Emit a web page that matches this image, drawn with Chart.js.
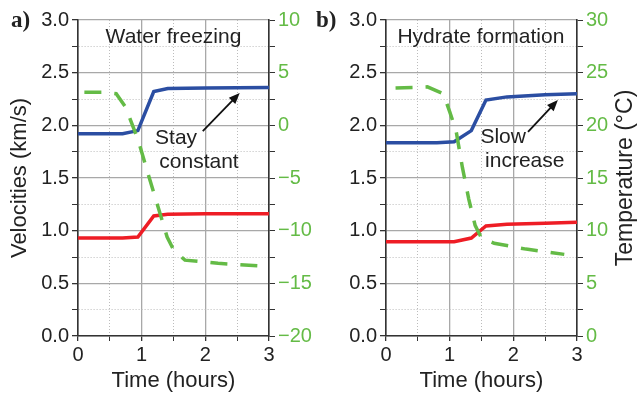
<!DOCTYPE html>
<html>
<head>
<meta charset="utf-8">
<script src="https://cdn.jsdelivr.net/npm/chart.js@4.4.0/dist/chart.umd.min.js"></script>
<style>
  body { margin: 0; background: #fff; }
  #wrap { position: relative; width: 639px; height: 394px; }
  canvas { position: absolute; top: 0; }
  #chartA { left: 0; }
  #chartB { left: 310px; }
</style>
</head>
<body>
<div id="wrap">
  <canvas id="chartA" width="320" height="394"></canvas>
  <canvas id="chartB" width="329" height="394"></canvas>
</div>
<script>
// Panel a) water freezing
const velTimesA = [0, 0.7, 0.94, 1.19, 1.41, 2.0, 3.0];
const vpA = [1.92, 1.92, 1.95, 2.32, 2.35, 2.355, 2.36];
const vsA = [0.93, 0.93, 0.94, 1.14, 1.155, 1.16, 1.16];
const tempTimesA = [0.1, 0.4, 0.6, 0.75, 0.95, 1.1, 1.4, 1.5, 1.68, 2.2, 3.0];
const tempA = [3.15, 3.15, 3.0, 1.7, -1.5, -4.6, -10.6, -11.8, -12.8, -13.1, -13.4];

// Panel b) hydrate formation
const velTimesB = [0, 0.8, 1.07, 1.34, 1.57, 1.9, 2.5, 3.0];
const vpB = [1.835, 1.835, 1.845, 1.95, 2.24, 2.27, 2.29, 2.30];
const vsB = [0.895, 0.895, 0.895, 0.93, 1.045, 1.06, 1.07, 1.08];
const tempTimesB = [0.15, 0.45, 0.65, 0.9, 1.0, 1.1, 1.2, 1.3, 1.4, 1.5, 1.7, 2.2, 2.8];
const tempB = [23.55, 23.6, 23.65, 23.0, 21.3, 19.5, 16.0, 13.0, 10.5, 9.3, 8.8, 8.25, 7.75];

// axis ranges and labels
const timeRange = [0, 3];
const velRange = [0, 3];
const tempRangeA = [-20, 10];
const tempRangeB = [0, 30];

const BLUE = '#2b4ea2';
const RED = '#ee1d25';
const GREEN = '#64bb46';
const MAJOR = '#a8a8a8';
const MINOR = '#bcbcbc';
const DARK = '#333';

Chart.defaults.font.family = '"Liberation Sans", Arial, sans-serif';
Chart.defaults.color = '#222';

const pts = (xs, ys) => xs.map((x, i) => ({ x: x, y: ys[i] }));
const isMajor = (v, step) => Math.abs(v / step - Math.round(v / step)) < 1e-6;

// text, arrow and panel label drawn on top of each chart
const annotate = {
    id: 'annotate',
    afterDraw(chart, args, opts) {
        const { ctx, scales: { x, y } } = chart;
        ctx.save();
        ctx.fillStyle = '#222';
        ctx.font = 'bold 23px "Liberation Serif", serif';
        ctx.textAlign = 'left';
        ctx.textBaseline = 'alphabetic';
        ctx.fillText(opts.panel, opts.panelX, 27);

        ctx.font = '21px "Liberation Sans", Arial, sans-serif';
        ctx.textAlign = 'center';
        ctx.textBaseline = 'middle';
        opts.texts.forEach(t => {
            ctx.fillText(t.text, x.getPixelForValue(t.x), y.getPixelForValue(t.y));
        });

        // arrow
        const a = opts.arrow;
        const x1 = x.getPixelForValue(a[0]), y1 = y.getPixelForValue(a[1]);
        const x2 = x.getPixelForValue(a[2]), y2 = y.getPixelForValue(a[3]);
        const ang = Math.atan2(y2 - y1, x2 - x1);
        const len = 11, half = 4.5;
        ctx.strokeStyle = '#111';
        ctx.lineWidth = 1.8;
        ctx.beginPath();
        ctx.moveTo(x1, y1);
        ctx.lineTo(x2 - Math.cos(ang) * len * 0.8, y2 - Math.sin(ang) * len * 0.8);
        ctx.stroke();
        ctx.fillStyle = '#111';
        ctx.beginPath();
        ctx.moveTo(x2, y2);
        ctx.lineTo(x2 - Math.cos(ang) * len - Math.sin(ang) * half, y2 - Math.sin(ang) * len + Math.cos(ang) * half);
        ctx.lineTo(x2 - Math.cos(ang) * len + Math.sin(ang) * half, y2 - Math.sin(ang) * len - Math.cos(ang) * half);
        ctx.closePath();
        ctx.fill();

        // right axis title reads bottom to top
        if (opts.rightTitle) {
            const area = chart.chartArea;
            ctx.fillStyle = '#222';
            ctx.font = '23px "Liberation Sans", Arial, sans-serif';
            ctx.translate(opts.rightTitleX, (area.top + area.bottom) / 2);
            ctx.rotate(-Math.PI / 2);
            ctx.fillText(opts.rightTitle, 0, 0);
        }
        ctx.restore();
    }
};

function makeChart(id, d) {
    const ctx = document.getElementById(id).getContext('2d');
    return new Chart(ctx, {
        type: 'line',
        data: {
            datasets: [
                { data: pts(d.tempTimes, d.temp), yAxisID: 'y2', borderColor: GREEN, borderWidth: 3.5, borderDash: [17, 13], order: 0 },
                { data: pts(d.velTimes, d.vp), yAxisID: 'y', borderColor: BLUE, borderWidth: 3.5, order: 1 },
                { data: pts(d.velTimes, d.vs), yAxisID: 'y', borderColor: RED, borderWidth: 3.5, order: 2 }
            ]
        },
        options: {
            responsive: false,
            animation: false,
            layout: { padding: { top: 20, left: 0, right: 0, bottom: 0 } },
            elements: { point: { radius: 0 }, line: { tension: 0, fill: false } },
            plugins: { legend: { display: false }, tooltip: { enabled: false }, annotate: d.annot },
            scales: {
                x: {
                    type: 'linear', min: timeRange[0], max: timeRange[1],
                    afterFit: s => { s.height = 58; },
                    ticks: {
                        stepSize: 0.5, autoSkip: false, maxRotation: 0, padding: 2,
                        font: { size: 20 },
                        callback: v => isMajor(v, 1) ? String(v) : ''
                    },
                    grid: {
                        color: c => isMajor(c.tick.value, 1) ? MAJOR : MINOR,
                        lineWidth: c => isMajor(c.tick.value, 1) ? 1.3 : 1,
                        tickColor: DARK, tickLength: 5
                    },
                    border: {
                        color: DARK, width: 1.6,
                        dash: c => (c.tick && !isMajor(c.tick.value, 1)) ? [1, 2] : []
                    },
                    title: { display: true, text: 'Time (hours)', font: { size: 22 }, padding: { top: 0, bottom: 0 } }
                },
                y: {
                    type: 'linear', position: 'left', min: velRange[0], max: velRange[1],
                    afterFit: s => { s.width = d.leftW; },
                    ticks: {
                        stepSize: 0.25, autoSkip: false, padding: 3,
                        font: { size: 20 },
                        callback: v => isMajor(v, 0.5) ? v.toFixed(1) : ''
                    },
                    grid: {
                        color: c => isMajor(c.tick.value, 0.5) ? MAJOR : MINOR,
                        lineWidth: c => isMajor(c.tick.value, 0.5) ? 1.3 : 1,
                        tickColor: DARK, tickLength: 6
                    },
                    border: {
                        color: DARK, width: 1.6,
                        dash: c => (c.tick && !isMajor(c.tick.value, 0.5)) ? [1, 2] : []
                    },
                    title: { display: d.leftTitle !== '', text: d.leftTitle, font: { size: 22 }, padding: { top: 7, bottom: 0 } }
                },
                y2: {
                    type: 'linear', position: 'right', min: d.tempRange[0], max: d.tempRange[1],
                    afterFit: s => { s.width = d.rightW; },
                    ticks: {
                        stepSize: 2.5, autoSkip: false, padding: 3, color: GREEN,
                        font: { size: 20 },
                        callback: v => isMajor(v, 5) ? String(v).replace('-', '\u2212') : ''
                    },
                    grid: { drawOnChartArea: false, tickColor: DARK, tickLength: 6 },
                    border: { color: DARK, width: 1.6 }
                }
            }
        },
        plugins: [annotate]
    });
}

document.addEventListener('DOMContentLoaded', () => {
    makeChart('chartA', {
        velTimes: velTimesA, vp: vpA, vs: vsA, tempTimes: tempTimesA, temp: tempA,
        tempRange: tempRangeA, leftW: 78, rightW: 51, leftTitle: 'Velocities (km/s)',
        annot: {
            panel: 'a)', panelX: 11,
            texts: [
                { text: 'Water freezing', x: 1.5, y: 2.84 },
                { text: 'Stay', x: 1.54, y: 1.88 },
                { text: 'constant', x: 1.9, y: 1.647 }
            ],
            arrow: [1.96, 1.946, 2.54, 2.307]
        }
    });
    makeChart('chartB', {
        velTimes: velTimesB, vp: vpB, vs: vsB, tempTimes: tempTimesB, temp: tempB,
        tempRange: tempRangeB, leftW: 76, rightW: 62, leftTitle: '',
        annot: {
            panel: 'b)', panelX: 6,
            texts: [
                { text: 'Hydrate formation', x: 1.49, y: 2.84 },
                { text: 'Slow', x: 1.84, y: 1.89 },
                { text: 'increase', x: 2.18, y: 1.66 }
            ],
            arrow: [2.23, 1.937, 2.70, 2.24],
            rightTitle: 'Temperature (\u00b0C)', rightTitleX: 316
        }
    });
});
</script>
</body>
</html>
